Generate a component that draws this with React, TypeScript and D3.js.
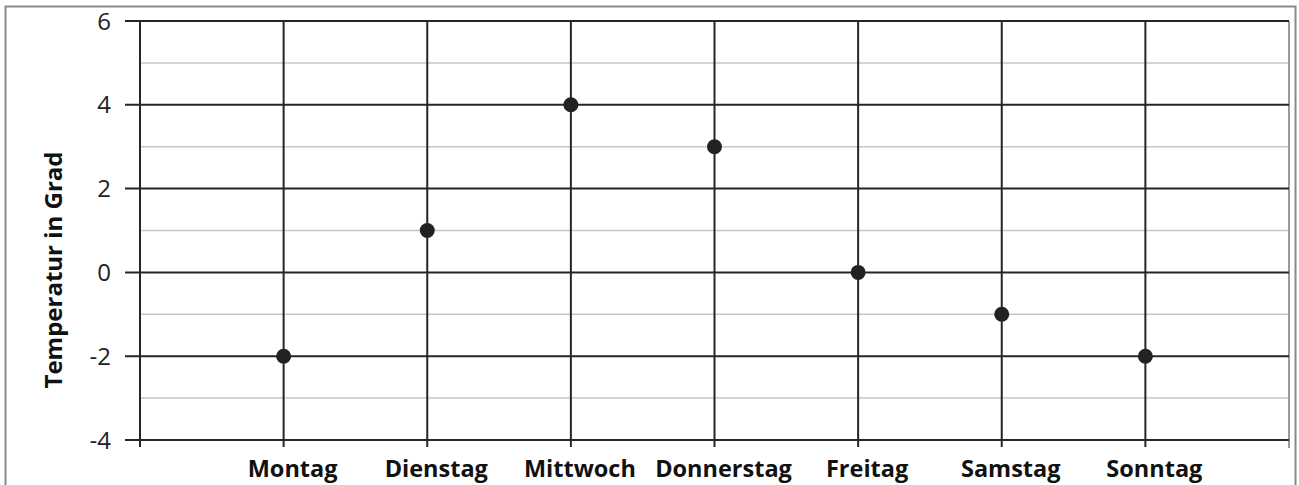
import React from "react";
import * as d3 from "d3";

const days = ["Montag", "Dienstag", "Mittwoch", "Donnerstag", "Freitag", "Samstag", "Sonntag"];
const temps = [-2, 1, 4, 3, 0, -1, -2];
const majorTicks = [-4, -2, 0, 2, 4, 6];
const minorTicks = [-3, -1, 1, 3, 5];
const yTitle = "Temperatur in Grad";

const W = 1299;
const H = 485;
const left = 140;
const right = 1289;
const top = 21;
const bottom = 440;

export default function App() {
  const x = d3.scaleLinear().domain([0, days.length + 1]).range([left, right]);
  const y = d3.scaleLinear().domain([-4, 6]).range([bottom, top]);
  const font = "'Open Sans', 'Segoe UI', sans-serif";
  return (
    <svg width={W} height={H} style={{ position: "absolute", left: 0, top: 0 }}>
      <rect x={0} y={0} width={W} height={H} fill="#fff" />
      <rect x={5.5} y={6.5} width={1290} height={500} fill="none" stroke="#8a8a8a" strokeWidth={2} />
      {minorTicks.map((t) => (
        <line key={"mi" + t} x1={left} x2={right} y1={y(t)} y2={y(t)} stroke="#c8c8c8" strokeWidth={1.5} />
      ))}
      <line x1={right} x2={right} y1={top} y2={bottom + 8} stroke="#9a9a9a" strokeWidth={2} />
      {majorTicks.map((t) => (
        <line key={"ma" + t} x1={left - 15} x2={right} y1={y(t)} y2={y(t)} stroke="#262626" strokeWidth={2} />
      ))}
      <line x1={left} x2={left} y1={top} y2={bottom + 7} stroke="#262626" strokeWidth={2} />
      {days.map((d, i) => (
        <line key={"v" + d} x1={x(i + 1)} x2={x(i + 1)} y1={top} y2={bottom + 7} stroke="#262626" strokeWidth={2} />
      ))}
      {majorTicks.map((t) => (
        <text key={"yl" + t} x={111} y={y(t)} dy="0.36em" textAnchor="end" fontFamily={font} fontSize={24} fill="#222">
          {t}
        </text>
      ))}
      <text
        transform={`translate(62, 270) rotate(-90)`}
        textAnchor="middle"
        fontFamily={font}
        fontWeight="bold"
        fontSize={24}
        fill="#111"
      >
        {yTitle}
      </text>
      {days.map((d, i) => (
        <text key={"xl" + d} x={x(i + 1) + 9} y={477} textAnchor="middle" fontFamily={font} fontWeight="bold" fontSize={23.5} fill="#111">
          {d}
        </text>
      ))}
      {temps.map((v, i) => (
        <circle key={"p" + i} cx={x(i + 1)} cy={y(v)} r={7.5} fill="#222" />
      ))}
    </svg>
  );
}
